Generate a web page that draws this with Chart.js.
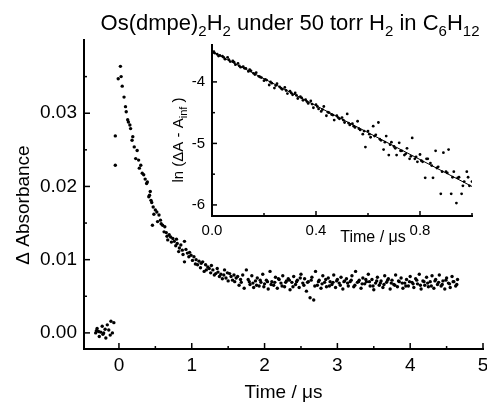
<!DOCTYPE html>
<html>
<head>
<meta charset="utf-8">
<script src="https://cdn.jsdelivr.net/npm/chart.js@4/dist/chart.umd.min.js"></script>
<style>
  html, body { margin: 0; padding: 0; background: #fff; }
  #wrap { position: relative; width: 487px; height: 404px; }
  #wrap canvas { position: absolute; left: 0; top: 0; }
</style>
</head>
<body>
<div id="wrap">
  <canvas id="mainChart" width="487" height="404"></canvas>
  <canvas id="insetChart" width="487" height="404"></canvas>
</div>
<script>
// Transient absorbance, time in microseconds
const baselineTime = [-0.32, -0.31, -0.30, -0.28, -0.27, -0.25, -0.23, -0.22, -0.21, -0.19, -0.18, -0.16, -0.14, -0.12, -0.11, -0.09, -0.07];
const baselineAbs = [0.0000, 0.0003, 0.0006, 0.0002, -0.0005, 0.0001, 0.0009, -0.0002, 0.0000, 0.0005, -0.0007, 0.0011, 0.0004, -0.0003, 0.0016, 0.0000, 0.0014];

const decayTime = [-0.05, -0.05, -0.01, 0.02, 0.03, 0.045, 0.07, 0.09, 0.10, 0.12, 0.13, 0.15, 0.16, 0.18, 0.19, 0.21, 0.23, 0.25, 0.27, 0.28,
  0.30, 0.32, 0.34, 0.36, 0.38, 0.39, 0.41, 0.42, 0.43, 0.44, 0.45, 0.46, 0.47, 0.48, 0.50, 0.52, 0.53, 0.55, 0.57, 0.58,
  0.60, 0.62, 0.63, 0.65, 0.66, 0.67, 0.69, 0.71, 0.72, 0.74, 0.76, 0.78, 0.79, 0.80, 0.82, 0.83, 0.85, 0.87, 0.88, 0.90,
  0.90, 0.92, 0.94, 0.96, 0.97, 0.99, 1.01, 1.03, 1.05, 1.06, 1.08, 1.10, 1.12, 1.13, 1.15, 1.17, 1.19, 1.20, 1.22, 1.24,
  1.26, 1.27, 1.29, 1.31, 1.33, 1.35, 1.36, 1.38, 1.40, 1.42, 1.44, 1.45, 1.47, 1.49, 1.50, 1.52, 1.54, 1.56, 1.58, 1.59,
  1.61, 1.63, 1.65, 1.67, 1.68, 1.70, 1.72, 1.75];
const decayAbs = [0.0269, 0.0229, 0.0347, 0.0364, 0.0350, 0.0337, 0.0322, 0.0309, 0.0302, 0.0291, 0.0288, 0.0284, 0.0279, 0.0263, 0.0268, 0.0254, 0.0238, 0.0249, 0.0236, 0.0225,
  0.0229, 0.0218, 0.0216, 0.0210, 0.0204, 0.0206, 0.0186, 0.0188, 0.0193, 0.0181, 0.0178, 0.0147, 0.0172, 0.0162, 0.0168, 0.0165, 0.0152, 0.0161, 0.0154, 0.0149,
  0.0147, 0.0138, 0.0145, 0.0137, 0.0132, 0.0127, 0.0134, 0.0131, 0.0124, 0.0129, 0.0125, 0.0119, 0.0128, 0.0122, 0.0111, 0.0116, 0.0120, 0.0113, 0.0107, 0.0125,
  0.0097, 0.0114, 0.0109, 0.0104, 0.0110, 0.0106, 0.0099, 0.0104, 0.0094, 0.0100, 0.0093, 0.0098, 0.0089, 0.0095, 0.0097, 0.0084, 0.0093, 0.0086, 0.0090, 0.0088,
  0.0082, 0.0092, 0.0086, 0.0079, 0.0081, 0.0088, 0.0083, 0.0077, 0.0080, 0.0074, 0.0079, 0.0086, 0.0075, 0.0082, 0.0071, 0.0081, 0.0077, 0.0072, 0.0079, 0.0070,
  0.0075, 0.0077, 0.0065, 0.0073, 0.0069, 0.0079, 0.0061, 0.0086];

const plateauTime = [1.775, 1.800, 1.825, 1.850, 1.875, 1.900, 1.925, 1.950, 1.975, 2.000, 2.025, 2.050, 2.075, 2.100, 2.125, 2.150, 2.175, 2.200, 2.225, 2.250,
  2.275, 2.300, 2.325, 2.350, 2.375, 2.400, 2.425, 2.450, 2.475, 2.500, 2.525, 2.550, 2.575, 2.600, 2.625, 2.650, 2.675, 2.700, 2.725, 2.750,
  2.775, 2.800, 2.825, 2.850, 2.875, 2.900, 2.925, 2.950, 2.975, 3.000, 3.025, 3.050, 3.075, 3.100, 3.125, 3.150, 3.175, 3.200, 3.225, 3.250,
  3.275, 3.300, 3.325, 3.350, 3.375, 3.400, 3.425, 3.450, 3.475, 3.500, 3.525, 3.550, 3.575, 3.600, 3.625, 3.650, 3.675, 3.700, 3.725, 3.750,
  3.775, 3.800, 3.825, 3.850, 3.875, 3.900, 3.925, 3.950, 3.975, 4.000, 4.025, 4.050, 4.075, 4.100, 4.125, 4.150, 4.175, 4.200, 4.225, 4.250,
  4.275, 4.300, 4.325, 4.350, 4.375, 4.400, 4.425, 4.450, 4.475, 4.500, 4.525, 4.550, 4.575, 4.600, 4.625, 4.650,
  1.79, 1.84, 1.89, 1.94, 1.99, 2.04, 2.09, 2.14, 2.19, 2.24, 2.29, 2.34, 2.39, 2.44, 2.49, 2.54, 2.59, 2.64, 2.69, 2.74,
  2.79, 2.84, 2.89, 2.94, 2.99, 3.04, 3.09, 3.14, 3.19, 3.24, 3.29, 3.34, 3.39, 3.44, 3.49, 3.54, 3.59, 3.64, 3.69, 3.74,
  3.79, 3.84, 3.89, 3.94, 3.99, 4.04, 4.09, 4.14, 4.19, 4.24, 4.29, 4.34, 4.39, 4.44, 4.49, 4.54, 4.59, 4.64];
const plateauAbs = [0.0073, 0.0066, 0.0078, 0.0062, 0.0071, 0.0075, 0.0064, 0.0069, 0.0080, 0.0067, 0.0072, 0.0060, 0.0084, 0.0070, 0.0065, 0.0076, 0.0061, 0.0073, 0.0068, 0.0078,
  0.0063, 0.0071, 0.0074, 0.0059, 0.0069, 0.0077, 0.0066, 0.0072, 0.0062, 0.0080, 0.0068, 0.0074, 0.0057, 0.0070, 0.0048, 0.0076, 0.0045, 0.0084, 0.0065, 0.0072,
  0.0061, 0.0078, 0.0069, 0.0063, 0.0075, 0.0070, 0.0066, 0.0079, 0.0062, 0.0073, 0.0068, 0.0076, 0.0060, 0.0071, 0.0074, 0.0064, 0.0070, 0.0078, 0.0063, 0.0084,
  0.0069, 0.0072, 0.0061, 0.0075, 0.0067, 0.0070, 0.0080, 0.0064, 0.0073, 0.0059, 0.0068, 0.0076, 0.0065, 0.0071, 0.0062, 0.0078, 0.0069, 0.0074, 0.0060, 0.0072,
  0.0066, 0.0079, 0.0063, 0.0070, 0.0075, 0.0061, 0.0068, 0.0073, 0.0064, 0.0077, 0.0069, 0.0062, 0.0074, 0.0067, 0.0080, 0.0060, 0.0071, 0.0065, 0.0076, 0.0063,
  0.0070, 0.0078, 0.0061, 0.0073, 0.0066, 0.0079, 0.0064, 0.0071, 0.0060, 0.0075, 0.0068, 0.0062, 0.0077, 0.0070, 0.0064, 0.0073,
  0.0070, 0.0068, 0.0065, 0.0072, 0.0063, 0.0070, 0.0066, 0.0069, 0.0074, 0.0064, 0.0069, 0.0072, 0.0063, 0.0070, 0.0075, 0.0065, 0.0069, 0.0072, 0.0064, 0.0070,
  0.0067, 0.0073, 0.0064, 0.0069, 0.0071, 0.0065, 0.0070, 0.0068, 0.0072, 0.0065, 0.0070, 0.0067, 0.0073, 0.0070, 0.0064, 0.0071, 0.0068, 0.0066, 0.0072, 0.0068,
  0.0065, 0.0071, 0.0068, 0.0064, 0.0070, 0.0067, 0.0072, 0.0065, 0.0070, 0.0068, 0.0064, 0.0071, 0.0069, 0.0066, 0.0072, 0.0067, 0.0070, 0.0066];

// Inset: ln(dA - A_inf) vs time
const insetTime = [0.00, 0.01, 0.02, 0.03, 0.04, 0.05, 0.06, 0.07, 0.08, 0.09, 0.10, 0.11, 0.12, 0.13, 0.14, 0.15, 0.16, 0.17, 0.18, 0.19,
  0.20, 0.21, 0.22, 0.23, 0.24, 0.25, 0.26, 0.27, 0.28, 0.29, 0.30, 0.31, 0.32, 0.33, 0.34, 0.35, 0.36, 0.37, 0.38, 0.39,
  0.40, 0.41, 0.42, 0.43, 0.44, 0.45, 0.46, 0.47, 0.48, 0.49, 0.50, 0.51, 0.52, 0.53, 0.54, 0.55, 0.56, 0.57, 0.58, 0.59,
  0.60, 0.61, 0.62, 0.63, 0.64, 0.65, 0.66, 0.67, 0.68, 0.69, 0.70, 0.71, 0.72, 0.73, 0.74, 0.75, 0.76, 0.77, 0.78, 0.79,
  0.80, 0.81, 0.82, 0.83, 0.84, 0.85, 0.86, 0.87, 0.88, 0.89, 0.90, 0.91, 0.92, 0.93, 0.94, 0.95, 0.96, 0.97, 0.98, 0.99, 1.00,
  0.005, 0.025, 0.045, 0.065, 0.085, 0.105, 0.125, 0.145, 0.165, 0.185, 0.205, 0.225, 0.245, 0.265, 0.285, 0.305, 0.325, 0.345, 0.365, 0.385,
  0.405, 0.425, 0.445, 0.465, 0.485, 0.505, 0.525, 0.545, 0.565, 0.585, 0.605, 0.625, 0.645, 0.665, 0.685, 0.705, 0.725, 0.745, 0.765, 0.785,
  0.805, 0.825, 0.845, 0.865, 0.885, 0.905, 0.925, 0.945, 0.965, 0.985];
const insetLnA = [-3.50, -3.53, -3.55, -3.57, -3.58, -3.63, -3.60, -3.67, -3.66, -3.72, -3.70, -3.76, -3.75, -3.78, -3.83, -3.82, -3.86, -3.85, -3.91, -3.93,
  -3.98, -3.97, -4.05, -4.02, -4.10, -4.03, -4.08, -4.12, -4.09, -4.19, -4.15, -4.21, -4.18, -4.27, -4.24, -4.30, -4.29, -4.35, -4.31, -4.42,
  -4.37, -4.44, -4.48, -4.40, -4.55, -4.50, -4.53, -4.62, -4.55, -4.60, -4.58, -4.66, -4.52, -4.70, -4.68, -4.74, -4.64, -4.78, -4.85, -5.06,
  -4.80, -4.90, -4.72, -4.86, -4.66, -4.95, -5.10, -4.88, -5.19, -4.98, -5.05, -5.19, -4.99, -5.12, -5.19, -5.08, -5.25, -4.91, -5.25, -5.30,
  -5.18, -5.30, -5.56, -5.25, -5.32, -5.56, -5.12, -5.38, -5.82, -5.15, -5.46, -5.10, -5.82, -5.46, -5.97, -5.55, -5.82, -5.62, -5.46, -5.69, -5.62,
  -3.52, -3.58, -3.60, -3.64, -3.68, -3.74, -3.78, -3.80, -3.88, -3.92, -3.96, -4.00, -4.06, -4.10, -4.14, -4.18, -4.22, -4.26, -4.32, -4.36,
  -4.40, -4.45, -4.49, -4.54, -4.58, -4.62, -4.67, -4.72, -4.76, -4.80, -4.85, -4.88, -4.93, -4.98, -5.02, -5.08, -5.12, -5.17, -5.21, -5.22,
  -5.28, -5.25, -5.36, -5.40, -5.46, -5.48, -5.55, -5.56, -5.69, -5.55];
const fitTime = [0.0, 1.0];
const fitLnA = [-3.51, -5.70];

// Axis ticks
const xTicks = [0, 1, 2, 3, 4, 5];
const xMinor = [-0.5, 0.5, 1.5, 2.5, 3.5, 4.5];
const yTicks = [0, 0.01, 0.02, 0.03];
const yMinor = [0.005, 0.015, 0.025, 0.035];
const insetXTicks = [0.0, 0.4, 0.8];
const insetXMinor = [0.2, 0.6, 1.0];
const insetYTicks = [-4, -5, -6];
const insetYMinor = [-3.5, -4.5, -5.5];

const FONT = "'Liberation Sans', Arial, Helvetica, sans-serif";

function toPoints(xs, ys) {
  return xs.map((x, i) => ({ x: x, y: ys[i] }));
}

// draws tick marks pointing into the plot
const innerTicks = {
  id: "innerTicks",
  afterDraw(chart, args, opts) {
    const { ctx, chartArea, scales } = chart;
    ctx.save();
    ctx.strokeStyle = "#000";
    ctx.lineWidth = 1.5;
    ["x", "y"].forEach((id) => {
      const cfg = opts[id];
      if (!cfg) return;
      const s = scales[id];
      const draw = (v, len) => {
        const p = s.getPixelForValue(v);
        ctx.beginPath();
        if (id === "x") {
          if (p < chartArea.left - 1 || p > chartArea.right + 1) return;
          ctx.moveTo(p, chartArea.bottom);
          ctx.lineTo(p, chartArea.bottom - len);
        } else {
          if (p < chartArea.top - 1 || p > chartArea.bottom + 1) return;
          ctx.moveTo(chartArea.left, p);
          ctx.lineTo(chartArea.left + len, p);
        }
        ctx.stroke();
      };
      cfg.major.forEach((v) => draw(v, opts.majorLen));
      cfg.minor.forEach((v) => draw(v, opts.minorLen));
    });
    ctx.restore();
  },
};

// text with subscripts, drawn left to right from (x, y) baseline
function drawRich(ctx, parts, x, y, size, subSize, subDrop) {
  parts.forEach(([txt, sub]) => {
    ctx.font = (sub ? subSize : size) + "px " + FONT;
    ctx.fillText(txt, x, sub ? y + subDrop : y);
    x += ctx.measureText(txt).width;
  });
}
function richWidth(ctx, parts, size, subSize) {
  let w = 0;
  parts.forEach(([txt, sub]) => {
    ctx.font = (sub ? subSize : size) + "px " + FONT;
    w += ctx.measureText(txt).width;
  });
  return w;
}

const mainLabels = {
  id: "mainLabels",
  afterDraw(chart) {
    const ctx = chart.ctx;
    ctx.save();
    ctx.fillStyle = "#000";
    ctx.textBaseline = "alphabetic";
    ctx.textAlign = "left";
    const title = [["Os(dmpe)", 0], ["2", 1], ["H", 0], ["2", 1], [" under 50 torr H", 0], ["2", 1],
      [" in C", 0], ["6", 1], ["H", 0], ["12", 1]];
    const w = richWidth(ctx, title, 22, 15);
    drawRich(ctx, title, 290 - w / 2, 30, 22, 15, 6);

    ctx.translate(24, 205);
    ctx.rotate(-Math.PI / 2);
    ctx.textAlign = "center";
    ctx.textBaseline = "middle";
    ctx.font = "19px " + FONT;
    ctx.fillText("\u0394 Absorbance", 0, 0);
    ctx.restore();
  },
};

const insetLabels = {
  id: "insetLabels",
  afterDraw(chart) {
    const ctx = chart.ctx;
    ctx.save();
    ctx.fillStyle = "#000";
    ctx.textBaseline = "middle";
    ctx.textAlign = "center";
    ctx.font = "16px " + FONT;
    ctx.fillText("Time / \u03bcs", 373, 238);

    const lab = [["ln (\u0394A - A", 0], ["inf", 1], [" )", 0]];
    ctx.translate(178, 140);
    ctx.rotate(-Math.PI / 2);
    ctx.textAlign = "left";
    ctx.textBaseline = "alphabetic";
    const w = richWidth(ctx, lab, 15, 11);
    drawRich(ctx, lab, -w / 2, 5, 15, 11, 4);
    ctx.restore();
  },
};

const bgWhite = {
  id: "bgWhite",
  beforeDraw(chart) {
    const ctx = chart.ctx;
    ctx.save();
    ctx.fillStyle = "#fff";
    ctx.fillRect(0, 0, chart.width, chart.height);
    ctx.restore();
  },
};

function fixTicks(values) {
  return (scale) => {
    scale.ticks = values.map((v) => ({ value: v }));
  };
}

// main chart
new Chart(document.getElementById("mainChart"), {
  type: "scatter",
  data: {
    datasets: [
      {
        data: toPoints(baselineTime, baselineAbs)
          .concat(toPoints(decayTime, decayAbs))
          .concat(toPoints(plateauTime, plateauAbs)),
        backgroundColor: "#000",
        borderWidth: 0,
        pointRadius: 1.7,
      },
    ],
  },
  options: {
    responsive: false,
    animation: false,
    events: [],
    layout: { padding: { left: 0, top: 40, right: 3, bottom: 0 } },
    plugins: {
      legend: { display: false },
      tooltip: { enabled: false },
      innerTicks: {
        majorLen: 6,
        minorLen: 3,
        x: { major: xTicks, minor: xMinor },
        y: { major: yTicks, minor: yMinor },
      },
    },
    scales: {
      x: {
        type: "linear",
        min: -0.48,
        max: 5,
        afterBuildTicks: fixTicks(xTicks),
        afterFit: (s) => {
          s.height = 55;
          s.paddingLeft = 0;
          s.paddingRight = 0;
        },
        grid: { display: false, drawTicks: false },
        border: { display: true, color: "#000", width: 2 },
        ticks: {
          color: "#000",
          padding: 5,
          maxRotation: 0,
          autoSkip: false,
          font: { family: FONT, size: 19 },
          callback: (v) => String(v),
        },
        title: {
          display: true,
          text: "Time / \u03bcs",
          color: "#000",
          padding: { top: 0, bottom: 0 },
          font: { family: FONT, size: 19 },
        },
      },
      y: {
        min: -0.0022,
        max: 0.040,
        afterBuildTicks: fixTicks(yTicks),
        afterFit: (s) => {
          s.width = 84;
          s.paddingTop = 0;
          s.paddingBottom = 0;
        },
        grid: { display: false, drawTicks: false },
        border: { display: true, color: "#000", width: 2 },
        ticks: {
          color: "#000",
          padding: 7,
          autoSkip: false,
          font: { family: FONT, size: 19 },
          callback: (v) => v.toFixed(2),
        },
      },
    },
  },
  plugins: [bgWhite, innerTicks, mainLabels],
});

// inset chart, overlaid on the same area
new Chart(document.getElementById("insetChart"), {
  type: "scatter",
  data: {
    datasets: [
      {
        type: "line",
        data: toPoints(fitTime, fitLnA),
        borderColor: "#000",
        borderWidth: 1,
        pointRadius: 0,
        fill: false,
      },
      {
        data: toPoints(insetTime, insetLnA),
        backgroundColor: "#000",
        borderWidth: 0,
        pointRadius: 1.4,
      },
    ],
  },
  options: {
    responsive: false,
    animation: false,
    events: [],
    layout: { padding: { left: 172, top: 45, right: 15, bottom: 158 } },
    plugins: {
      legend: { display: false },
      tooltip: { enabled: false },
      innerTicks: {
        majorLen: 5,
        minorLen: 3,
        x: { major: insetXTicks, minor: insetXMinor },
        y: { major: insetYTicks, minor: insetYMinor },
      },
    },
    scales: {
      x: {
        type: "linear",
        min: 0,
        max: 1.0,
        afterBuildTicks: fixTicks(insetXTicks),
        afterFit: (s) => {
          s.height = 30;
          s.paddingLeft = 0;
          s.paddingRight = 0;
        },
        grid: { display: false, drawTicks: false },
        border: { display: true, color: "#000", width: 2 },
        ticks: {
          color: "#000",
          padding: 6,
          maxRotation: 0,
          autoSkip: false,
          font: { family: FONT, size: 15 },
          callback: (v) => v.toFixed(1),
        },
      },
      y: {
        min: -6.18,
        max: -3.4,
        afterBuildTicks: fixTicks(insetYTicks),
        afterFit: (s) => {
          s.width = 40;
          s.paddingTop = 0;
          s.paddingBottom = 0;
        },
        grid: { display: false, drawTicks: false },
        border: { display: true, color: "#000", width: 2 },
        ticks: {
          color: "#000",
          padding: 7,
          autoSkip: false,
          font: { family: FONT, size: 15 },
          callback: (v) => String(v),
        },
      },
    },
  },
  plugins: [innerTicks, insetLabels],
});
</script>
</body>
</html>
